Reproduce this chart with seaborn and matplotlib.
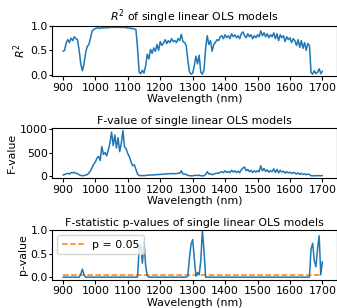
import numpy as np
import pandas as pd
import matplotlib
matplotlib.use("Agg")
import matplotlib.pyplot as plt
import seaborn as sns

# wavelength grid (nm)
wavelengths = np.arange(900, 1705, 5)

# R^2 of each single-wavelength OLS model
r2_values = [
    0.48, 0.50, 0.65, 0.72, 0.66, 0.75, 0.70, 0.78, 0.74, 0.72,   # 900-945
    0.50, 0.22, 0.08, 0.22, 0.45, 0.58, 0.62, 0.75, 0.90, 0.93,   # 950-995
    0.95, 0.96, 0.96, 0.95, 0.97, 0.96, 0.97, 0.96, 0.97, 0.97,   # 1000-1045
    0.98, 0.97, 0.98, 0.97, 0.98, 0.97, 0.97, 0.98, 0.97, 0.97,   # 1050-1095
    0.96, 0.96, 0.95, 0.95, 0.94, 0.93, 0.55, 0.05, 0.02, 0.09,   # 1100-1145
    0.03, 0.18, 0.42, 0.32, 0.52, 0.44, 0.55, 0.48, 0.62, 0.50,   # 1150-1195
    0.68, 0.60, 0.65, 0.72, 0.64, 0.70, 0.66, 0.74, 0.68, 0.70,   # 1200-1245
    0.66, 0.74, 0.70, 0.83, 0.68, 0.66, 0.60, 0.30, 0.06, 0.01,   # 1250-1295
    0.03, 0.18, 0.38, 0.22, 0.40, 0.05, 0.01, 0.10, 0.55, 0.80,   # 1300-1345
    0.62, 0.70, 0.48, 0.62, 0.66, 0.72, 0.70, 0.78, 0.80, 0.74,   # 1350-1395
    0.82, 0.76, 0.80, 0.74, 0.84, 0.78, 0.82, 0.76, 0.80, 0.74,   # 1400-1445
    0.84, 0.88, 0.80, 0.76, 0.84, 0.78, 0.82, 0.74, 0.80, 0.76,   # 1450-1495
    0.82, 0.78, 0.90, 0.80, 0.86, 0.78, 0.84, 0.76, 0.82, 0.78,   # 1500-1545
    0.86, 0.74, 0.84, 0.70, 0.82, 0.76, 0.80, 0.68, 0.78, 0.72,   # 1550-1595
    0.76, 0.66, 0.74, 0.70, 0.60, 0.72, 0.56, 0.70, 0.54, 0.66,   # 1600-1645
    0.50, 0.64, 0.60, 0.04, 0.01, 0.08, 0.02, 0.05, 0.12, 0.02,   # 1650-1695
    0.07,                                                         # 1700
]

# F-value of each model
f_values = [
    20, 30, 45, 55, 40, 70, 65, 80, 55, 50,
    25, 10, 5, 8, 15, 30, 60, 110, 180, 250,
    300, 380, 420, 330, 630, 460, 500, 430, 560, 700,
    940, 650, 880, 600, 820, 520, 700, 970, 620, 580,
    480, 410, 300, 220, 240, 140, 40, 10, 5, 8,
    5, 10, 18, 15, 22, 20, 25, 22, 30, 28,
    35, 32, 38, 45, 40, 48, 42, 55, 45, 50,
    48, 60, 55, 110, 45, 40, 30, 12, 5, 2,
    3, 8, 15, 8, 15, 3, 2, 5, 30, 90,
    40, 50, 25, 40, 50, 60, 55, 80, 90, 70,
    110, 75, 95, 70, 120, 85, 110, 75, 100, 70,
    130, 170, 190, 110, 140, 90, 120, 75, 110, 80,
    115, 90, 220, 110, 160, 95, 130, 80, 110, 90,
    150, 75, 140, 65, 120, 85, 100, 60, 90, 65,
    80, 55, 75, 60, 40, 65, 35, 55, 30, 45,
    25, 40, 30, 5, 2, 6, 3, 4, 8, 3,
    6,
]

# p-value of the F-statistic
p_values = [
    0.0, 0.0, 0.0, 0.0, 0.0, 0.0, 0.0, 0.0, 0.0, 0.0,
    0.0, 0.06, 0.17, 0.05, 0.0, 0.0, 0.0, 0.0, 0.0, 0.0,
    0.0, 0.0, 0.0, 0.0, 0.0, 0.0, 0.0, 0.0, 0.0, 0.0,
    0.0, 0.0, 0.0, 0.0, 0.0, 0.0, 0.0, 0.0, 0.0, 0.0,
    0.0, 0.0, 0.0, 0.0, 0.0, 0.0, 0.0, 0.62, 0.68, 0.30,
    0.75, 0.25, 0.03, 0.0, 0.0, 0.0, 0.0, 0.0, 0.0, 0.0,
    0.0, 0.0, 0.0, 0.0, 0.0, 0.0, 0.0, 0.0, 0.0, 0.0,
    0.0, 0.0, 0.0, 0.0, 0.0, 0.0, 0.0, 0.02, 0.40, 0.70,
    0.80, 0.40, 0.02, 0.10, 0.05, 0.35, 1.00, 0.55, 0.0, 0.0,
    0.0, 0.0, 0.0, 0.0, 0.0, 0.0, 0.0, 0.0, 0.0, 0.0,
    0.0, 0.0, 0.0, 0.0, 0.0, 0.0, 0.0, 0.0, 0.0, 0.0,
    0.0, 0.0, 0.0, 0.0, 0.0, 0.0, 0.0, 0.0, 0.0, 0.0,
    0.0, 0.0, 0.0, 0.0, 0.0, 0.0, 0.0, 0.0, 0.0, 0.0,
    0.0, 0.0, 0.0, 0.0, 0.0, 0.0, 0.0, 0.0, 0.0, 0.0,
    0.0, 0.0, 0.0, 0.0, 0.0, 0.0, 0.0, 0.0, 0.0, 0.0,
    0.0, 0.0, 0.0, 0.60, 0.72, 0.35, 0.22, 0.60, 0.88, 0.05,
    0.33,
]

p_threshold = 0.05

r2_ticks = [0.0, 0.5, 1.0]
f_ticks = [0, 500, 1000]
p_ticks = [0.0, 0.5, 1.0]

df = pd.DataFrame({"wl": wavelengths, "r2": r2_values, "f": f_values, "p": p_values})
df["thr"] = p_threshold

sns.set_style("ticks", {"text.color": "black", "axes.labelcolor": "black",
                        "xtick.color": "black", "ytick.color": "black",
                        "axes.edgecolor": "black"})
plt.rcParams["font.family"] = ["DejaVu Sans"]
fs = 7.9
plt.rcParams["font.size"] = fs

fig = plt.figure(figsize=(3.37, 3.08), dpi=100)
ax1 = fig.add_axes([0.154, 0.753, 0.846, 0.164])
ax2 = fig.add_axes([0.154, 0.422, 0.846, 0.162])
ax3 = fig.add_axes([0.154, 0.0925, 0.846, 0.161])

blue = "#1f77b4"
orange = "#ff7f0e"

sns.lineplot(data=df, x="wl", y="r2", ax=ax1, color=blue, lw=1.1)
ax1.set_title("$R^2$ of single linear OLS models", fontsize=fs, pad=3)
ax1.set_ylabel("$R^2$", fontsize=fs, labelpad=2)
ax1.set_ylim(-0.03, 1.01)
ax1.set_yticks(r2_ticks)

sns.lineplot(data=df, x="wl", y="f", ax=ax2, color=blue, lw=1.1)
ax2.set_title("F-value of single linear OLS models", fontsize=fs, pad=3)
ax2.set_ylabel("F-value", fontsize=fs, labelpad=2)
ax2.set_ylim(-45, 1025)
ax2.set_yticks(f_ticks)

sns.lineplot(data=df, x="wl", y="thr", ax=ax3, color=orange, lw=1.1,
             linestyle="--", label="p = 0.05")
sns.lineplot(data=df, x="wl", y="p", ax=ax3, color=blue, lw=1.1)
ax3.set_title("F-statistic p-values of single linear OLS models", fontsize=fs, pad=3)
ax3.set_ylabel("p-value", fontsize=fs, labelpad=2)
ax3.set_ylim(-0.05, 1.005)
ax3.set_yticks(p_ticks)
ax3.legend(loc="upper left", fontsize=fs, frameon=True)

for ax in (ax1, ax2, ax3):
    ax.set_xlim(866, 1745)
    ax.set_xticks(np.arange(900, 1800, 100))
    ax.set_xlabel("Wavelength (nm)", fontsize=fs, labelpad=1)
    ax.tick_params(axis="x", labelsize=fs, length=3, pad=2)
    ax.tick_params(axis="y", labelsize=fs, length=2, pad=1)

fig.savefig("out.png", dpi=100)
